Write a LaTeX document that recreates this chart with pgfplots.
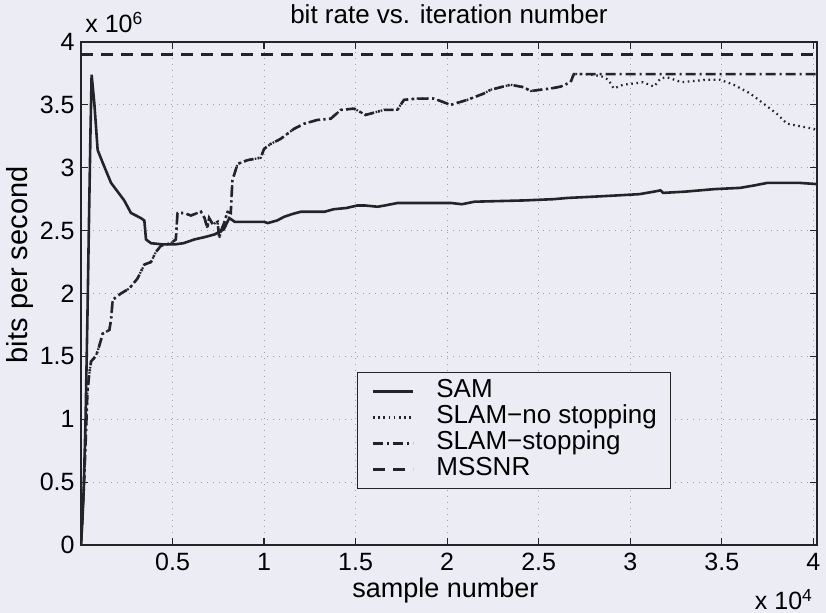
\documentclass[border=0pt]{standalone}
\usepackage{fontspec}
\setmainfont{Liberation Sans}
\usepackage{pgfplots}
\pgfplotsset{compat=1.18}
\usepackage{pgfplotstable}
\definecolor{bgc}{RGB}{236,236,245}
\definecolor{ink}{RGB}{35,35,40}

% x in units of 10^4 samples, y in units of 10^6 bits/s
\pgfplotstableread{
x y
0 0
0.008 0.2
0.015 0.45
0.025 1.0
0.035 1.8
0.045 2.7
0.052 3.3
0.058 3.74
0.073 3.51
0.091 3.14
0.127 3.01
0.164 2.88
0.20 2.81
0.236 2.74
0.273 2.64
0.327 2.60
0.346 2.58
0.355 2.43
0.382 2.40
0.45 2.39
0.51 2.39
0.56 2.40
0.62 2.43
0.68 2.45
0.73 2.47
0.78 2.51
0.81 2.60
0.84 2.57
0.90 2.57
1.00 2.57
1.02 2.56
1.07 2.58
1.11 2.61
1.15 2.63
1.20 2.65
1.33 2.65
1.38 2.67
1.45 2.68
1.51 2.70
1.55 2.70
1.62 2.69
1.66 2.70
1.73 2.72
2.02 2.72
2.08 2.71
2.15 2.73
2.42 2.74
2.58 2.75
2.66 2.76
2.80 2.77
2.93 2.78
3.05 2.79
3.13 2.81
3.165 2.82
3.18 2.80
3.30 2.81
3.46 2.83
3.60 2.84
3.68 2.86
3.75 2.88
3.84 2.88
3.92 2.88
4.02 2.87
}\sam

\pgfplotstableread{
x y
0 0
0.005 0.15
0.015 0.44
0.025 0.8
0.035 1.21
0.045 1.36
0.055 1.46
0.08 1.50
0.091 1.54
0.109 1.63
0.118 1.68
0.155 1.71
0.164 1.79
0.173 1.95
0.218 2.00
0.264 2.04
0.309 2.12
0.346 2.23
0.382 2.25
0.409 2.33
0.437 2.38
0.491 2.40
0.518 2.43
0.527 2.64
0.564 2.64
0.600 2.62
0.655 2.65
0.675 2.60
0.690 2.52
0.700 2.60
0.720 2.55
0.746 2.57
0.755 2.44
0.765 2.50
0.782 2.56
0.800 2.65
0.818 2.64
0.827 2.90
0.855 3.03
0.909 3.06
0.982 3.08
1.000 3.15
1.037 3.19
1.091 3.23
1.164 3.31
1.219 3.35
1.291 3.38
1.364 3.39
1.419 3.46
1.491 3.47
1.555 3.42
1.655 3.46
1.728 3.46
1.764 3.54
1.837 3.55
1.928 3.55
2.019 3.50
2.110 3.54
2.200 3.59
2.237 3.62
2.346 3.66
2.419 3.64
2.455 3.61
2.564 3.63
2.619 3.645
2.674 3.68
2.692 3.745
4.02 3.745
}\slamstop

\pgfplotstableread{
x y
0 0
0.005 0.15
0.015 0.44
0.025 0.8
0.035 1.21
0.045 1.36
0.055 1.46
0.08 1.50
0.091 1.54
0.109 1.63
0.118 1.68
0.155 1.71
0.164 1.79
0.173 1.95
0.218 2.00
0.264 2.04
0.309 2.12
0.346 2.23
0.382 2.25
0.409 2.33
0.437 2.38
0.491 2.40
0.518 2.43
0.527 2.64
0.564 2.64
0.600 2.62
0.655 2.65
0.675 2.60
0.690 2.52
0.700 2.60
0.720 2.55
0.746 2.57
0.755 2.44
0.765 2.50
0.782 2.56
0.800 2.65
0.818 2.64
0.827 2.90
0.855 3.03
0.909 3.06
0.982 3.08
1.000 3.15
1.037 3.19
1.091 3.23
1.164 3.31
1.219 3.35
1.291 3.38
1.364 3.39
1.419 3.46
1.491 3.47
1.555 3.42
1.655 3.46
1.728 3.46
1.764 3.54
1.837 3.55
1.928 3.55
2.019 3.50
2.110 3.54
2.200 3.59
2.237 3.62
2.346 3.66
2.419 3.64
2.455 3.61
2.564 3.63
2.619 3.645
2.674 3.68
2.692 3.745
2.75 3.745
2.84 3.73
2.88 3.70
2.91 3.63
2.96 3.66
3.02 3.67
3.07 3.68
3.13 3.645
3.165 3.71
3.20 3.72
3.28 3.68
3.35 3.69
3.42 3.70
3.49 3.70
3.565 3.66
3.656 3.59
3.728 3.51
3.80 3.43
3.856 3.35
3.928 3.33
4.00 3.31
4.02 3.30
}\slamnostop

\pgfplotstableread{
x y
0 3.9
4.02 3.9
}\mssnr

\begin{document}
\begin{tikzpicture}[font=\fontsize{12.5}{15}\selectfont]
\useasboundingbox (-40.5pt,-34pt) rectangle (372.5pt,272.5pt);
\fill[bgc] (-40.5pt,-34pt) rectangle (372.5pt,272.5pt);
\begin{axis}[
  scale only axis,
  width=368pt, height=251.5pt,
  xmin=0, xmax=4.02, ymin=0, ymax=4,
  clip mode=individual,
  xtick={0.5,1,1.5,2,2.5,3,3.5,4},
  ytick={0,0.5,1,1.5,2,2.5,3,3.5,4},
  scaled ticks=false,
  /pgf/number format/assume math mode=true,
  tick align=inside,
  major tick length=3.5pt,
  tick style={ink, line width=0.6pt},
  axis line style={ink, line width=0.9pt},
  grid=major,
  grid style={gray!75, line width=0.5pt, dash pattern=on 0.6pt off 2.4pt},
  xticklabel style={anchor=base, inner sep=0pt, yshift=-13pt},
  yticklabel style={anchor=east, inner sep=0pt, xshift=-3pt},
  every axis title shift=0pt,
  title={bit rate vs. iteration number},
  title style={at={(axis description cs:0.5,1.0358)}, anchor=base, inner sep=0pt, font=\fontsize{13}{15}\selectfont},
  xlabel={sample number},
  xlabel style={at={(axis description cs:0.495,-0.1054)}, anchor=base, inner sep=0pt, font=\fontsize{13.5}{16}\selectfont},
  ylabel={bits per second},
  ylabel style={at={(axis description cs:-0.0829,0.557)}, anchor=center, inner sep=0pt, font=\fontsize{14.5}{16}\selectfont},
  legend image code/.code={\draw[#1] (0pt,0pt) -- (20pt,0pt);},
  legend style={at={(axis description cs:0.375,0.111)}, anchor=south west,
    draw=ink, line width=0.6pt, fill=bgc, inner xsep=7pt, inner ysep=3pt,
    font=\fontsize{13}{15}\selectfont,
    nodes={inner sep=0pt, text height=9.5pt, text depth=3.5pt},
    /tikz/every odd column/.append style={column sep=11pt}},
  legend cell align=left,
]
\addplot[ink, line width=1.3pt] table {\sam};
\addlegendentry{SAM}
\addplot[ink, line width=1.1pt, dash pattern=on 0.8pt off 1.8pt] table {\slamnostop};
\addlegendentry{SLAM−no stopping}
\addplot[ink, line width=1.3pt, dash pattern=on 5pt off 2pt on 1pt off 2pt] table {\slamstop};
\addlegendentry{SLAM−stopping}
\addplot[ink, line width=1.4pt, dash pattern=on 6pt off 4pt] table {\mssnr};
\addlegendentry{MSSNR}
\node[anchor=base west, inner sep=0pt] at (axis description cs:0.0054,1.0179) {x 10\textsuperscript{6}};
\node[anchor=base east, inner sep=0pt] at (axis description cs:0.995,-0.1292) {x 10\textsuperscript{4}};
\end{axis}
\end{tikzpicture}
\end{document}
